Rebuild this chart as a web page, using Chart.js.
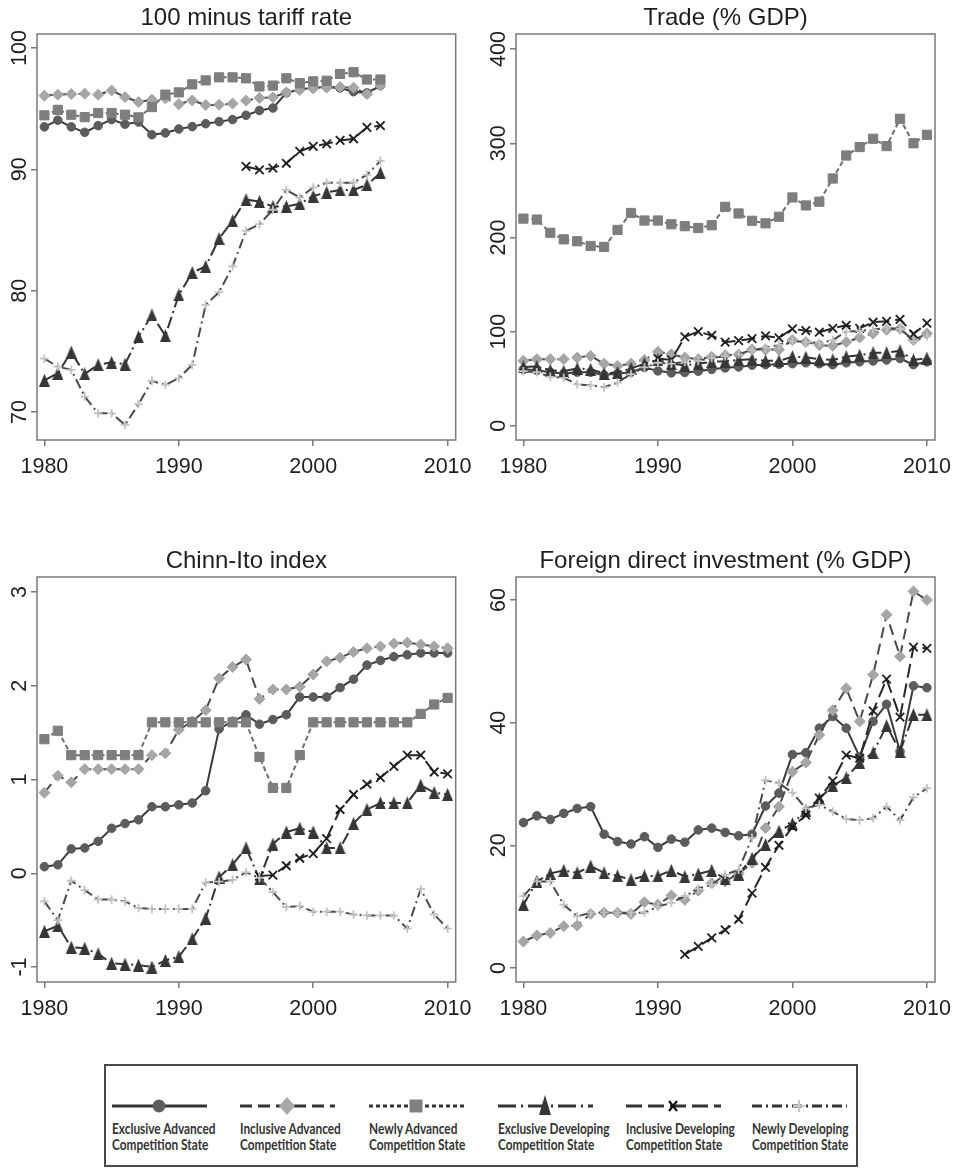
<!DOCTYPE html>
<html>
<head>
<meta charset="utf-8">
<script src="https://cdn.jsdelivr.net/npm/chart.js@4.4.0/dist/chart.umd.min.js"></script>
<style>
  html, body { margin: 0; padding: 0; background: #fff; }
  #page { position: relative; width: 960px; height: 1168px; overflow: hidden; background: #fff; }
  #page canvas { position: absolute; }
  #legend { position: absolute; left: 104px; top: 1064px; width: 754px; height: 103px;
            box-sizing: border-box; border: 2px solid #4a4a4a; }
  .lg-item { position: absolute; top: 0; }
  .lg-item svg { position: absolute; left: 0; top: 28px; }
  .lg-text { position: absolute; left: 0; top: 55px; white-space: nowrap;
             font-family: Lato, "Open Sans", sans-serif; font-weight: 700; font-size: 15px;
             line-height: 15.5px; color: #333; transform: scaleX(0.79); transform-origin: 0 0; }
</style>
</head>
<body>
<div id="page">
  <canvas id="tariff" width="480" height="480" style="left:0px;top:0px"></canvas>
  <canvas id="trade" width="480" height="480" style="left:480px;top:0px"></canvas>
  <canvas id="chinnIto" width="480" height="500" style="left:0px;top:520px"></canvas>
  <canvas id="fdi" width="480" height="500" style="left:480px;top:520px"></canvas>
  <div id="legend"></div>
</div>
<script>
// ---- data ----
const years = [1980, 1981, 1982, 1983, 1984, 1985, 1986, 1987, 1988, 1989,
               1990, 1991, 1992, 1993, 1994, 1995, 1996, 1997, 1998, 1999,
               2000, 2001, 2002, 2003, 2004, 2005, 2006, 2007, 2008, 2009, 2010];
const xTicks = [1980, 1990, 2000, 2010];

const groupNames = [
  ['Exclusive Advanced', 'Competition State'],
  ['Inclusive Advanced', 'Competition State'],
  ['Newly Advanced', 'Competition State'],
  ['Exclusive Developing', 'Competition State'],
  ['Inclusive Developing', 'Competition State'],
  ['Newly Developing', 'Competition State']
];

// 100 minus tariff rate (1980-2005; inclusive developing from 1995)
const tariffExclAdv = [93.5, 94.05, 93.5, 93.05, 93.6, 94.1, 93.72, 93.9, 92.85, 93.0, 93.32, 93.52, 93.76, 93.93, 94.1, 94.45, 94.85, 95.05, 96.3, 96.6, 96.7, 96.8, 96.7, 96.4, 96.3, 96.9];
const tariffInclAdv = [96.07, 96.15, 96.2, 96.23, 96.15, 96.5, 95.95, 95.55, 95.74, 95.85, 95.37, 95.68, 95.3, 95.32, 95.42, 95.66, 95.88, 95.93, 96.34, 96.54, 96.67, 96.73, 96.78, 96.73, 96.2, 96.9];
const tariffNewAdv = [94.45, 94.9, 94.5, 94.3, 94.64, 94.64, 94.5, 94.28, 95.13, 96.15, 96.34, 97.0, 97.33, 97.58, 97.58, 97.5, 96.83, 96.9, 97.5, 97.1, 97.25, 97.3, 97.86, 98.0, 97.4, 97.4];
const tariffExclDev = [72.62, 73.2, 74.95, 73.15, 73.9, 74.1, 73.95, 76.2, 78.0, 76.3, 79.65, 81.5, 82.0, 84.3, 85.76, 87.5, 87.35, 86.94, 86.94, 87.16, 87.8, 88.1, 88.3, 88.3, 88.73, 89.7];
const tariffInclDev = [90.24, 89.96, 90.1, 90.5, 91.48, 91.9, 92.1, 92.38, 92.52, 93.46, 93.6];
const tariffNewDev = [74.4, 73.75, 73.48, 71.28, 69.9, 69.9, 68.94, 70.65, 72.57, 72.24, 72.79, 73.89, 78.84, 79.88, 82.0, 84.93, 85.48, 86.67, 88.3, 87.68, 88.5, 88.9, 88.9, 88.9, 89.55, 90.7];

// Trade (% GDP), 1980-2010; inclusive developing from 1990
const tradeExclAdv = [60, 59, 57, 55.6, 57, 57, 54, 55.6, 57, 62, 58.4, 56.3, 56.6, 58, 60, 61.6, 62.6, 64.4, 65, 65.5, 66, 67, 66, 65, 67, 68, 69, 70, 71.5, 65, 68];
const tradeInclAdv = [69, 70.8, 70.8, 70.8, 72.5, 74.3, 66, 63.7, 66, 70, 78.6, 76, 72.5, 70.8, 73.3, 75, 75.8, 81, 81, 81, 91, 89, 85.7, 85, 89, 93.8, 98, 102, 103, 91, 98];
const tradeNewAdv = [220, 219, 205, 198, 196, 191, 190, 208, 226, 218, 218, 214, 212, 210, 213, 232.5, 225.5, 217.7, 215, 222, 242.5, 234, 238, 262.6, 287, 296, 304.8, 297, 326, 300, 309];
const tradeExclDev = [62.6, 63, 59, 58, 61, 60, 55.6, 56.6, 61, 66, 70, 66, 64.4, 66, 68, 68.7, 70, 70.7, 69, 69, 73.5, 72.8, 70.7, 70, 73.5, 75, 77.6, 77.6, 79.7, 70, 72];
const tradeInclDev = [71.5, 70, 94.5, 100, 96, 88.8, 90.5, 92.6, 95.5, 93.4, 103, 101, 99.4, 103.6, 106.8, 103.6, 110, 111, 113, 97.6, 109];
const tradeNewDev = [58, 57, 52, 51, 44, 43, 41, 46, 55, 62, 67, 66, 68, 69, 72, 74, 76, 80, 83, 86, 90, 89, 88, 91, 100, 101, 102, 104, 103, 90, 95];

// Chinn-Ito index, 1980-2010; inclusive developing from 1996
const chinnExclAdv = [0.07, 0.09, 0.26, 0.27, 0.34, 0.48, 0.53, 0.57, 0.71, 0.71, 0.73, 0.75, 0.88, 1.54, 1.62, 1.69, 1.59, 1.64, 1.69, 1.88, 1.88, 1.88, 1.98, 2.07, 2.22, 2.27, 2.31, 2.33, 2.35, 2.35, 2.35];
const chinnInclAdv = [0.86, 1.04, 0.97, 1.11, 1.11, 1.11, 1.11, 1.11, 1.26, 1.28, 1.53, 1.62, 1.74, 2.08, 2.2, 2.28, 1.86, 1.96, 1.96, 1.99, 2.12, 2.26, 2.3, 2.36, 2.4, 2.42, 2.45, 2.46, 2.44, 2.42, 2.4];
const chinnNewAdv = [1.43, 1.52, 1.26, 1.26, 1.26, 1.26, 1.26, 1.26, 1.61, 1.61, 1.61, 1.61, 1.61, 1.61, 1.61, 1.61, 1.24, 0.91, 0.91, 1.26, 1.61, 1.61, 1.61, 1.61, 1.61, 1.61, 1.61, 1.61, 1.7, 1.8, 1.87];
const chinnExclDev = [-0.62, -0.56, -0.79, -0.8, -0.86, -0.96, -0.97, -0.98, -1.0, -0.93, -0.89, -0.7, -0.48, -0.04, 0.09, 0.27, -0.06, 0.31, 0.44, 0.48, 0.44, 0.27, 0.27, 0.53, 0.68, 0.75, 0.75, 0.75, 0.94, 0.86, 0.84];
const chinnInclDev = [-0.03, -0.02, 0.08, 0.16, 0.21, 0.37, 0.68, 0.84, 0.95, 1.02, 1.14, 1.26, 1.26, 1.08, 1.06];
const chinnNewDev = [-0.3, -0.5, -0.08, -0.18, -0.28, -0.28, -0.3, -0.37, -0.38, -0.38, -0.38, -0.38, -0.1, -0.09, -0.07, 0.01, -0.05, -0.2, -0.36, -0.35, -0.41, -0.41, -0.41, -0.44, -0.45, -0.45, -0.45, -0.59, -0.17, -0.44, -0.59];

// Foreign direct investment (% GDP), 1980-2010; inclusive developing from 1992.
// The newly advanced group has no series in this panel.
const fdiExclAdv = [23.7, 24.8, 24.2, 25.2, 26, 26.3, 21.8, 20.6, 20.2, 21.4, 19.65, 21, 20.5, 22.5, 22.8, 22.1, 21.55, 21.8, 26.4, 28.5, 34.8, 35.1, 39.1, 41, 39.1, 34.4, 40.2, 43, 35.3, 46, 45.7];
const fdiInclAdv = [4.3, 5.3, 5.7, 6.8, 6.9, 8.8, 9.0, 9.0, 8.8, 10.7, 10.3, 11.8, 11.1, 12.6, 13.8, 14.1, 15.4, 17.1, 22.8, 26.3, 32, 33.5, 38, 42, 45.6, 40.2, 47.8, 57.6, 50.8, 61.4, 60];
const fdiNewAdv = [];
const fdiExclDev = [10.3, 14.1, 15.4, 15.9, 15.5, 16.6, 15.5, 15.0, 14.4, 15.0, 15.0, 15.9, 14.9, 15.3, 15.9, 14.5, 15.3, 17.9, 20.1, 22.3, 23.5, 25.7, 27.6, 29.7, 31, 33.5, 35.1, 39.5, 35.3, 41.3, 41.3];
const fdiInclDev = [2.2, 3.5, 4.9, 6.2, 7.9, 12.2, 16.4, 20.0, 23.0, 24.9, 27.7, 30.5, 34.7, 34.2, 41.9, 47.1, 40.9, 52.3, 52.1];
const fdiNewDev = [11.7, 14.1, 14.1, 10.3, 8.4, 9.0, 9.0, 9.0, 9.0, 9.0, 10.0, 10.6, 11.7, 12.9, 13.6, 15.2, 16.0, 21.2, 30.6, 30.1, 28.6, 26.0, 26.6, 25.5, 24.3, 24.1, 24.4, 26.3, 24.1, 27.8, 29.3];

const tariffTicks = [70, 80, 90, 100];
const tradeTicks = [0, 100, 200, 300, 400];
const chinnTicks = [-1, 0, 1, 2, 3];
const fdiTicks = [0, 20, 40, 60];

// ---- styling ----
function triangleImage(w, h, color) {
  const c = document.createElement('canvas');
  c.width = w; c.height = h;
  const g = c.getContext('2d');
  g.fillStyle = color;
  g.beginPath();
  g.moveTo(w / 2, 0); g.lineTo(w, h); g.lineTo(0, h); g.closePath();
  g.fill();
  return c;
}

const styles = [
  { line: '#3b3b3b', dash: [],             point: 'circle',   r: 4.3, fill: '#5c5c5c', border: '#5c5c5c', bw: 1 },
  { line: '#4a4a4a', dash: [11, 6],        point: 'rectRot',  r: 5.5, fill: '#a6a6a6', border: '#a6a6a6', bw: 1 },
  { line: '#6e6e6e', dash: [5, 3],         point: 'rect',     r: 6.5, fill: '#7e7e7e', border: '#7e7e7e', bw: 1 },
  { line: '#333333', dash: [12, 4, 2, 4],  point: triangleImage(11, 13, '#363636'), r: 6, fill: '#363636', border: '#363636', bw: 1 },
  { line: '#262626', dash: [14, 6],        point: 'crossRot', r: 6, fill: '#1e1e1e', border: '#1e1e1e', bw: 1.8 },
  { line: '#4a4a4a', dash: [10, 4, 2, 4],  point: 'cross',    r: 4.3, fill: '#c2c2c2', border: '#c2c2c2', bw: 1.8 }
];

function pts(values, firstYear) {
  const k = years.indexOf(firstYear);
  return values.map((v, i) => ({ x: years[k + i], y: v }));
}

const FONT = 'Liberation Sans, Arial, sans-serif';

// box around the plot region
const framePlugin = {
  id: 'frame',
  afterDatasetsDraw(chart) {
    const { ctx, chartArea: a } = chart;
    ctx.save();
    ctx.strokeStyle = '#7a7a7a';
    ctx.lineWidth = 1.5;
    ctx.strokeRect(a.left, a.top, a.right - a.left, a.bottom - a.top);
    ctx.restore();
  }
};

// vertical (rotated) y tick labels
const yLabelPlugin = {
  id: 'yLabels',
  afterDraw(chart) {
    const { ctx, chartArea: a } = chart;
    const sc = chart.scales.y;
    ctx.save();
    ctx.fillStyle = '#1e1e1e';
    ctx.font = '21.5px ' + FONT;
    ctx.textAlign = 'center';
    ctx.textBaseline = 'alphabetic';
    sc.ticks.forEach(t => {
      ctx.save();
      ctx.translate(a.left - 11, sc.getPixelForValue(t.value));
      ctx.rotate(-Math.PI / 2);
      ctx.fillText(String(t.value), 0, 0);
      ctx.restore();
    });
    ctx.restore();
  }
};

function makePanel(id, title, series, yMin, yMax, yTicks, geo) {
  const datasets = series.map((d, i) => {
    const s = styles[i];
    return {
      label: groupNames[i].join(' '),
      data: d,
      borderColor: s.line,
      borderWidth: 2,
      borderDash: s.dash,
      pointStyle: s.point,
      pointRadius: s.r,
      pointBackgroundColor: s.fill,
      pointBorderColor: s.border,
      pointBorderWidth: s.bw,
      fill: false,
      tension: 0,
      spanGaps: false,
      order: 5 - i
    };
  });
  const gridStyle = { drawOnChartArea: false, drawTicks: true, tickLength: 6, color: '#7a7a7a', lineWidth: 1.5 };
  return new Chart(document.getElementById(id), {
    type: 'line',
    data: { datasets },
    options: {
      responsive: false,
      animation: false,
      devicePixelRatio: 1,
      layout: { padding: { left: 0, right: geo.right, top: 0, bottom: 0 } },
      plugins: {
        legend: { display: false },
        tooltip: { enabled: false },
        title: {
          display: true, text: title, fullSize: false, color: '#1e1e1e',
          font: { family: FONT, size: 24, weight: 'normal', lineHeight: 1.2 },
          padding: { top: geo.titleTop, bottom: 1 }
        }
      },
      scales: {
        x: {
          type: 'linear', min: 1979.45, max: 2010.6,
          afterBuildTicks: sc => { sc.ticks = xTicks.map(v => ({ value: v })); },
          afterFit: sc => { sc.height = geo.xh; },
          grid: gridStyle,
          border: { display: false },
          ticks: { color: '#1e1e1e', font: { family: FONT, size: 21.5 }, padding: 8,
                   maxRotation: 0, autoSkip: false, callback: v => String(v) }
        },
        y: {
          type: 'linear', min: yMin, max: yMax,
          afterBuildTicks: sc => { sc.ticks = yTicks.map(v => ({ value: v })); },
          afterFit: sc => { sc.width = geo.yw; },
          grid: gridStyle,
          border: { display: false },
          ticks: { display: false }
        }
      }
    },
    plugins: [framePlugin, yLabelPlugin]
  });
}

makePanel('tariff', '100 minus tariff rate',
  [pts(tariffExclAdv, 1980), pts(tariffInclAdv, 1980), pts(tariffNewAdv, 1980),
   pts(tariffExclDev, 1980), pts(tariffInclDev, 1995), pts(tariffNewDev, 1980)],
  67.7, 101.15, tariffTicks, { right: 24, yw: 37, xh: 40, titleTop: 4.2 });

makePanel('trade', 'Trade (% GDP)',
  [pts(tradeExclAdv, 1980), pts(tradeInclAdv, 1980), pts(tradeNewAdv, 1980),
   pts(tradeExclDev, 1980), pts(tradeInclDev, 1990), pts(tradeNewDev, 1980)],
  -15, 416, tradeTicks, { right: 25, yw: 36, xh: 40, titleTop: 4.2 });

makePanel('chinnIto', 'Chinn-Ito index',
  [pts(chinnExclAdv, 1980), pts(chinnInclAdv, 1980), pts(chinnNewAdv, 1980),
   pts(chinnExclDev, 1980), pts(chinnInclDev, 1996), pts(chinnNewDev, 1980)],
  -1.16, 3.16, chinnTicks, { right: 24, yw: 37, xh: 38, titleTop: 27.2 });

makePanel('fdi', 'Foreign direct investment (% GDP)',
  [pts(fdiExclAdv, 1980), pts(fdiInclAdv, 1980), pts(fdiNewAdv, 1980),
   pts(fdiExclDev, 1980), pts(fdiInclDev, 1992), pts(fdiNewDev, 1980)],
  -2.3, 63.75, fdiTicks, { right: 25, yw: 36, xh: 38, titleTop: 27.2 });

// ---- legend ----
const legendCols = [6, 134, 263, 392, 520, 646];
const legendSamples = [
  { dash: '',          marker: '<circle cx="47" cy="12" r="6.5" fill="#5e5e5e"/>' },
  { dash: '12 6',      marker: '<polygon points="47,3 55,12 47,21 39,12" fill="#a8a8a8"/>' },
  { dash: '4 3',       marker: '<rect x="40.5" y="5.5" width="13" height="13" fill="#808080"/>' },
  { dash: '18 5 2 5',  marker: '<polygon points="47,1 53,21 41,21" fill="#363636"/>' },
  { dash: '16 6',      marker: '<path d="M43,7 L51,17 M51,7 L43,17" stroke="#111" stroke-width="2.2"/>' },
  { dash: '10 4 2 4',  marker: '<path d="M47,6 L47,18 M41,12 L53,12" stroke="#c8c8c8" stroke-width="2"/>' }
];
const legend = document.getElementById('legend');
legendCols.forEach((left, i) => {
  const s = legendSamples[i];
  const item = document.createElement('div');
  item.className = 'lg-item';
  item.style.left = left + 'px';
  item.innerHTML =
    '<svg width="96" height="24" viewBox="0 0 96 24">' +
    '<line x1="0" y1="12" x2="95" y2="12" stroke="#333" stroke-width="3"' +
    (s.dash ? ' stroke-dasharray="' + s.dash + '"' : '') + '/>' + s.marker + '</svg>' +
    '<div class="lg-text">' + groupNames[i][0] + '<br>' + groupNames[i][1] + '</div>';
  legend.appendChild(item);
});
</script>
</body>
</html>
